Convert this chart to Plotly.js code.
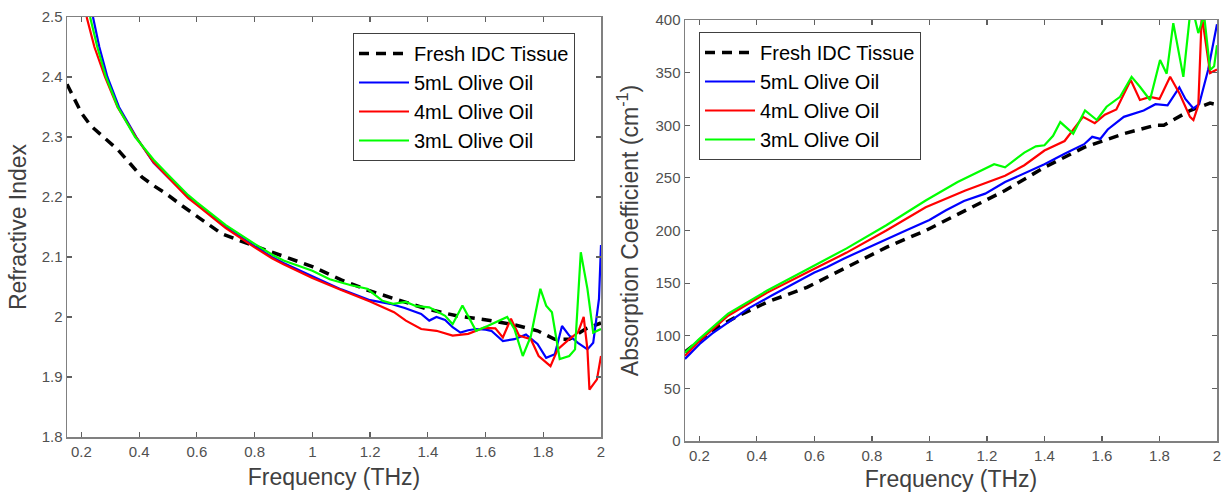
<!DOCTYPE html>
<html>
<head>
<meta charset="utf-8">
<script src="https://cdn.plot.ly/plotly-3.0.1.min.js"></script>
<style>html,body{margin:0;padding:0;background:#fff;}#chart{width:1231px;height:499px;}</style>
</head>
<body>
<div id="chart"></div>
<script>
// ---- Series names ----
const seriesNames = ["Fresh IDC Tissue", "5mL Olive Oil", "4mL Olive Oil", "3mL Olive Oil"];

// ---- Left panel: Refractive index ----
const freshN_x = [0.15,0.2,0.232,0.28,0.328,0.37,0.41,0.45,0.492,0.55,0.602,0.65,0.685,0.75,0.808,0.9,1.0,1.1,1.19,1.3,1.4,1.5,1.604,1.7,1.78,1.84,1.89,1.946,2.0];
const freshN_y = [2.388,2.34,2.319,2.298,2.278,2.255,2.233,2.219,2.206,2.185,2.167,2.15,2.139,2.127,2.117,2.1,2.084,2.062,2.045,2.028,2.013,2.002,1.995,1.987,1.977,1.963,1.963,1.98,1.99];

const blueN_x = [0.24,0.262,0.29,0.33,0.39,0.45,0.5,0.57,0.6,0.7,0.8,0.86,0.9,1.0,1.1,1.2,1.27,1.32,1.377,1.405,1.43,1.46,1.486,1.513,1.54,1.567,1.6,1.62,1.66,1.70,1.74,1.78,1.81,1.84,1.865,1.89,1.92,1.953,1.973,1.993,2.0];
const blueN_y = [2.5,2.45,2.40,2.35,2.30,2.257,2.233,2.20,2.188,2.15,2.118,2.10,2.09,2.068,2.046,2.028,2.022,2.015,2.005,1.994,2.0,1.995,1.983,1.974,1.978,1.98,1.979,1.977,1.96,1.963,1.971,1.955,1.932,1.938,1.985,1.969,1.957,1.946,1.957,2.03,2.12];

const redN_x = [0.218,0.245,0.282,0.325,0.386,0.45,0.5,0.57,0.6,0.7,0.8,0.86,0.9,1.0,1.1,1.2,1.283,1.324,1.377,1.43,1.486,1.54,1.594,1.634,1.66,1.688,1.716,1.757,1.784,1.825,1.85,1.89,1.92,1.94,1.953,1.96,1.986,2.0];
const redN_y = [2.5,2.45,2.40,2.35,2.302,2.258,2.233,2.198,2.187,2.148,2.116,2.098,2.088,2.065,2.045,2.026,2.008,1.994,1.98,1.977,1.969,1.972,1.982,1.981,1.966,1.997,1.969,1.963,1.935,1.918,1.946,1.963,1.974,2.0,1.946,1.879,1.896,1.935];

const greenN_x = [0.23,0.255,0.285,0.326,0.386,0.45,0.5,0.57,0.6,0.7,0.8,0.864,0.9,1.0,1.06,1.134,1.19,1.243,1.28,1.324,1.36,1.405,1.46,1.486,1.52,1.54,1.567,1.607,1.675,1.70,1.729,1.757,1.79,1.81,1.83,1.857,1.89,1.91,1.93,1.953,1.973,2.0];
const greenN_y = [2.5,2.45,2.40,2.35,2.30,2.262,2.237,2.203,2.191,2.153,2.122,2.103,2.094,2.077,2.063,2.053,2.047,2.027,2.022,2.025,2.018,2.016,2.002,1.988,2.019,2.0,1.977,1.985,2.0,1.98,1.935,1.968,2.047,2.019,2.008,1.93,1.935,1.946,2.108,2.047,1.974,1.98];

// ---- Right panel: Absorption coefficient ----
const freshA_x = [0.15,0.244,0.326,0.436,0.574,0.712,0.85,0.987,1.125,1.263,1.40,1.538,1.676,1.786,1.815,1.883,1.906,1.976,1.993];
const freshA_y = [84.5,105,117.7,132,146,165,184,200,219,238,260,279,292,300,300,311,314,321,320];

const blueA_x = [0.15,0.2,0.244,0.3,0.368,0.45,0.505,0.6,0.643,0.7,0.78,0.85,0.918,1.0,1.056,1.12,1.194,1.263,1.33,1.40,1.47,1.538,1.566,1.594,1.62,1.676,1.745,1.786,1.828,1.869,1.89,1.918,1.938,1.969,2.0];
const blueA_y = [78,92,102,113,125.6,138,146,160,165,173,183,192,200,210,219,228,235,246,254,263,273,282,289,287,296,308,314,320,319,336,325,316,320,352.5,396];

const redA_x = [0.15,0.2,0.3,0.436,0.574,0.712,0.85,0.987,1.125,1.263,1.33,1.40,1.47,1.534,1.575,1.61,1.65,1.7,1.732,1.767,1.80,1.837,1.87,1.906,1.918,1.935,1.947,1.965,1.976,2.0];
const redA_y = [81,95,119,141,160,179,200,222,238,252,262,276,285,308,302,310,315,343,324,327,325,346,330,308,305,319,405,372,349.6,353];

const greenA_x = [0.15,0.2,0.3,0.436,0.574,0.712,0.85,0.987,1.098,1.194,1.225,1.263,1.33,1.37,1.40,1.43,1.455,1.5,1.541,1.582,1.616,1.663,1.703,1.732,1.767,1.802,1.825,1.848,1.865,1.883,1.906,1.92,1.935,1.955,1.976,1.99,2.0];
const greenA_y = [84,97,121,143,163,183,205,228.5,246,258.5,263,260,274,280,281,290,303,292,314,305,317.6,327,346,336.6,324,362,349,397,371.5,346,405,405,387.6,405,352.5,356,376];

// ---- Axis tick labels ----
const xTicks = [0.2,0.4,0.6,0.8,1,1.2,1.4,1.6,1.8,2];
const xTickText = ["0.2","0.4","0.6","0.8","1","1.2","1.4","1.6","1.8","2"];
const nTicks = [1.8,1.9,2,2.1,2.2,2.3,2.4,2.5];
const nTickText = ["1.8","1.9","2","2.1","2.2","2.3","2.4","2.5"];
const aTicks = [0,50,100,150,200,250,300,350,400];
const aTickText = ["0","50","100","150","200","250","300","350","400"];

const FONT = "Arial, 'Liberation Sans', Helvetica, sans-serif";
const colors = ["#000000", "#0000ff", "#ff0000", "#00ff00"];

function mk(x, y, i, xa, ya, leg) {
  const dashed = i === 0;
  return {
    x: x, y: y, type: "scatter", mode: "lines",
    name: seriesNames[i], xaxis: xa, yaxis: ya, legend: leg, showlegend: true,
    line: {color: colors[i], width: dashed ? 3.5 : 2.2, dash: dashed ? "10px,7px" : "solid"},
    hoverinfo: "skip"
  };
}

const data = [
  mk(freshN_x, freshN_y, 0, "x", "y", "legend"),
  mk(blueN_x, blueN_y, 1, "x", "y", "legend"),
  mk(redN_x, redN_y, 2, "x", "y", "legend"),
  mk(greenN_x, greenN_y, 3, "x", "y", "legend"),
  mk(freshA_x, freshA_y, 0, "x2", "y2", "legend2"),
  mk(blueA_x, blueA_y, 1, "x2", "y2", "legend2"),
  mk(redA_x, redA_y, 2, "x2", "y2", "legend2"),
  mk(greenA_x, greenA_y, 3, "x2", "y2", "legend2")
];

function axis(extra) {
  return Object.assign({
    showgrid: false, zeroline: false, showline: true, mirror: "ticks",
    linecolor: "#808080", linewidth: 1.5,
    ticks: "inside", ticklen: 5, tickwidth: 1.2, tickcolor: "#606060",
    tickfont: {family: FONT, size: 15, color: "#505050"},
    tickmode: "array", automargin: false, fixedrange: true
  }, extra);
}

const titleFont = {family: FONT, size: 23, color: "#404040"};

const legendCommon = {
  bgcolor: "#ffffff", bordercolor: "#404040", borderwidth: 1,
  font: {family: FONT, size: 20, color: "#000000"},
  xanchor: "left", yanchor: "top", tracegroupgap: 0, itemwidth: 50
};

const layout = {
  width: 1231, height: 499,
  margin: {l: 0, r: 0, t: 0, b: 0},
  paper_bgcolor: "#ffffff", plot_bgcolor: "#ffffff",
  showlegend: true,
  xaxis: axis({domain: [67/1231, 601/1231], range: [0.15, 2], tickvals: xTicks, ticktext: xTickText, anchor: "y",
    title: {text: "Frequency (THz)", font: titleFont, standoff: 10}}),
  yaxis: axis({domain: [1 - 437/499, 1 - 17/499], range: [1.8, 2.5], tickvals: nTicks, ticktext: nTickText, anchor: "x",
    title: {text: "Refractive Index", font: titleFont, standoff: 8}}),
  xaxis2: axis({domain: [685/1231, 1217/1231], range: [0.15, 2], tickvals: xTicks, ticktext: xTickText, anchor: "y2",
    title: {text: "Frequency (THz)", font: titleFont, standoff: 8}}),
  yaxis2: axis({domain: [1 - 441/499, 1 - 20/499], range: [0, 400], tickvals: aTicks, ticktext: aTickText, anchor: "x2",
    title: {text: "Absorption Coefficient (cm<sup>-1</sup>)", font: titleFont, standoff: 10}}),
  legend: Object.assign({x: 353/1231, y: 1 - 33/499}, legendCommon),
  legend2: Object.assign({x: 699/1231, y: 1 - 32/499}, legendCommon)
};

Plotly.newPlot("chart", data, layout, {staticPlot: true, displayModeBar: false});
</script>
</body>
</html>
